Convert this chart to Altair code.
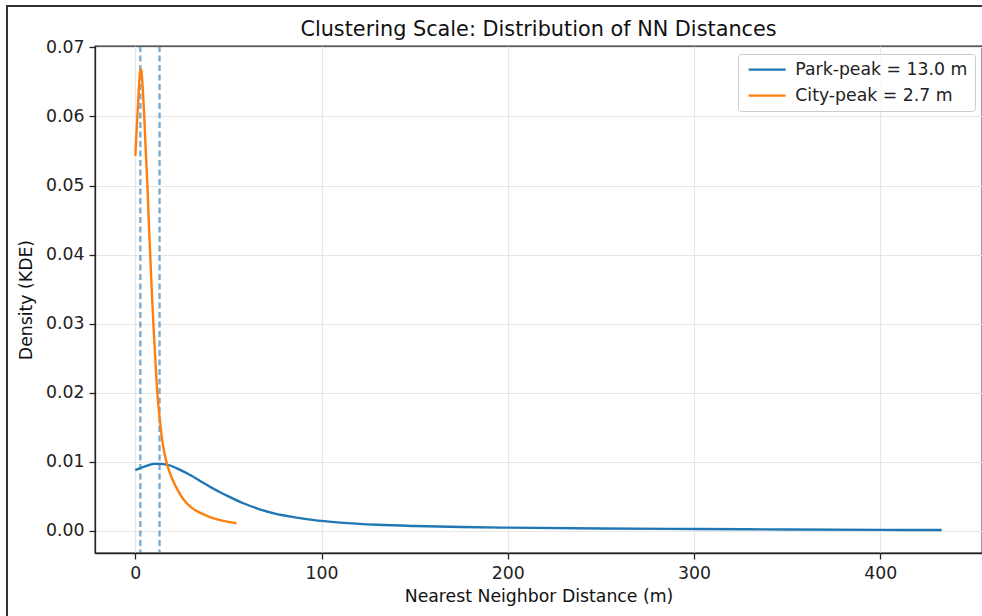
import altair as alt
import pandas as pd

FONT = "DejaVu Sans"
FS = 17.3

# Park KDE curve
park_x = [0, 5, 10, 13, 17, 22, 28, 35, 42, 50, 58, 66, 75, 85, 95, 110, 130, 150, 175, 200, 250, 300, 350, 400, 433]
park_y = [0.0088, 0.0093, 0.0097, 0.0097, 0.0096, 0.0091, 0.0083, 0.0072, 0.0061, 0.0050, 0.0040, 0.0032,
          0.0025, 0.0020, 0.0016, 0.0012, 0.00088, 0.0007, 0.00056, 0.00047, 0.00035, 0.00027, 0.0002, 0.00015, 0.00012]

# City KDE curve
city_x = [0, 0.5, 1, 1.5, 2, 2.7, 3.3, 4, 4.8, 5.6, 6.5, 7.2, 8, 8.8, 9.7, 10.7, 11.8, 13, 14.5, 16.7, 18, 20,
          23, 26, 30, 35, 40, 45, 50, 54.3]
city_y = [0.0543, 0.057, 0.0595, 0.062, 0.0645, 0.0669, 0.0665, 0.064, 0.060, 0.055, 0.050, 0.045, 0.040, 0.035,
          0.030, 0.025, 0.020, 0.0165, 0.013, 0.010, 0.0088, 0.0074, 0.0058, 0.0045, 0.0034, 0.0026, 0.0020,
          0.0016, 0.0013, 0.0011]

series_names = ["Park-peak = 13.0 m", "City-peak = 2.7 m"]
series_colors = ["#1f77b4", "#ff7f0e"]
peaks = [13.0, 2.7]

x_ticks = [0, 100, 200, 300, 400]
y_ticks = [0.0, 0.01, 0.02, 0.03, 0.04, 0.05, 0.06, 0.07]

rows = []
for i, (xv, yv) in enumerate(zip(park_x, park_y)):
    rows.append({"series": series_names[0], "x": xv, "y": yv, "order": i})
for i, (xv, yv) in enumerate(zip(city_x, city_y)):
    rows.append({"series": series_names[1], "x": xv, "y": yv, "order": i})
df = pd.DataFrame(rows)
peak_df = pd.DataFrame({"peak": peaks})

xscale = alt.Scale(domain=[-21.65, 454.65], nice=False, zero=False)
yscale = alt.Scale(domain=[-0.0032, 0.0702], nice=False, zero=False)

lines = alt.Chart(df).mark_line(strokeWidth=2.4, clip=True, interpolate="monotone").encode(
    x=alt.X("x:Q", scale=xscale,
            axis=alt.Axis(values=x_ticks, title="Nearest Neighbor Distance (m)", format="d")),
    y=alt.Y("y:Q", scale=yscale,
            axis=alt.Axis(values=y_ticks, title="Density (KDE)", format=".2f")),
    color=alt.Color("series:N",
                    scale=alt.Scale(domain=series_names, range=series_colors),
                    sort=series_names,
                    legend=alt.Legend(title=None, orient="none", legendX=643, legendY=8,
                                      symbolType="M-1,0H6.4", symbolSize=100, symbolStrokeWidth=2.4,
                                      labelFont=FONT, labelFontSize=FS, labelColor="#222",
                                      labelLimit=400, labelOffset=33, rowPadding=8, padding=7,
                                      strokeColor="#cccccc", fillColor="rgba(255,255,255,0.8)",
                                      cornerRadius=3)),
    order="order:Q",
)

vlines = alt.Chart(peak_df).mark_rule(color="#1f77b4", opacity=0.6, strokeWidth=2.4,
                                      strokeDash=[6, 3.5]).encode(
    x=alt.X("peak:Q", scale=xscale)
)

frame = alt.Chart(pd.DataFrame({"a": [0]})).mark_rect(
    fill=None, stroke="#333333", strokeWidth=2, clip=False
).encode(
    x=alt.value(-88), x2=alt.value(1000), y=alt.value(-40), y2=alt.value(700)
)

chart = alt.layer(vlines, lines, frame).properties(
    width=887, height=507,
    title=alt.TitleParams("Clustering Scale: Distribution of NN Distances", font=FONT, fontSize=20.8,
                          fontWeight="normal", anchor="middle", color="#111", offset=8, dy=44),
    autosize=alt.AutoSizeParams(type="none"),
    padding={"left": 95, "top": 46, "right": 0, "bottom": 63},
).configure(background="white").configure_view(stroke="#222", strokeWidth=1.3).configure_axis(
    labelFont=FONT, titleFont=FONT, labelFontSize=FS, titleFontSize=FS,
    titleFontWeight="normal", labelColor="#222", titleColor="#111",
    domainColor="#222", domainWidth=1.3, tickColor="#222", tickSize=6, tickWidth=1.3,
    gridColor="#e6e6e6", gridWidth=1.2, labelPadding=5,
).configure_axisX(titlePadding=6).configure_axisY(titlePadding=10)

chart.save("out.html", embed_options={"renderer": "svg", "actions": False})
